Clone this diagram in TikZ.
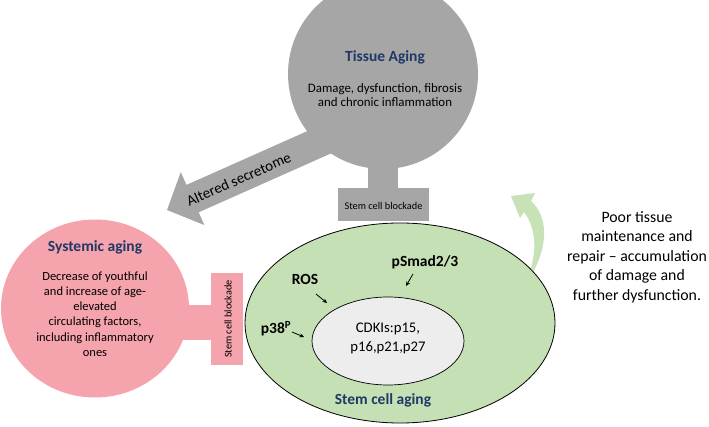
\documentclass[tikz,border=0pt]{standalone}
\usepackage{fontspec}
\setmainfont{Carlito}
\usetikzlibrary{arrows.meta,shapes.geometric}
\definecolor{tgray}{RGB}{166,166,166}
\definecolor{spink}{RGB}{245,163,172}
\definecolor{sgreen}{RGB}{197,224,180}
\definecolor{cgray}{RGB}{237,237,237}
\definecolor{navy}{RGB}{31,56,100}
\definecolor{agreen}{RGB}{200,226,184}
\begin{document}
\begin{tikzpicture}[x=1pt,y=-1pt,
  title/.style={font=\bfseries\fontsize{15.5}{18}\selectfont, text=navy, inner sep=0pt},
  bodytxt/.style={align=center, inner sep=0pt},
  blocktxt/.style={font=\fontsize{10.3}{12}\selectfont, inner sep=0pt},
  marker/.style={font=\bfseries\fontsize{15.5}{18}\selectfont, inner sep=0pt},
  smallarrow/.style={-{Stealth[length=4.5pt,width=4pt]}, line width=0.8pt}]
\useasboundingbox (0,0) rectangle (709,427);
\clip (0,0) rectangle (709,427);

% Altered secretome block arrow
\begin{scope}[shift={(167,210)}, rotate=24]
  \fill[tgray] (0,0) -- (28,-29) -- (28,-15) -- (185,-15) -- (185,15) -- (28,15) -- (28,29) -- cycle;
  \node[rotate=24, font=\fontsize{15}{18}\selectfont, inner sep=0pt] (secretome) at (78,1) {Altered secretome};
\end{scope}

% Tissue aging
\fill[tgray] (368,160) rectangle (398,190);
\node[circle, fill=tgray, minimum size=190pt, inner sep=0pt] (tissue) at (383,74) {};
\node[fill=tgray, minimum width=91pt, minimum height=33pt, inner sep=0pt] (tbox) at (383.5,204.5) {};
\node[blocktxt] (ttext) at (383.5,206) {Stem cell blockade};
\node[title] (ttitle) at (385,57) {Tissue Aging};
\node[bodytxt, font=\fontsize{12.9}{14.5}\selectfont] (tbody) at (385,95) {Damage, dysfunction, fibrosis\\and chronic inflammation};

% Systemic aging
\fill[spink] (180,305) rectangle (213,340);
\node[ellipse, fill=spink, minimum width=188pt, minimum height=178pt, inner sep=0pt] (sys) at (95,308.5) {};
\node[fill=spink, minimum width=32pt, minimum height=92pt, inner sep=0pt] (sbox) at (227,319) {};
\node[blocktxt, rotate=90] (stext) at (228,319) {Stem cell blockade};
\node[title] (stitle) at (95,247) {Systemic aging};
\node[bodytxt, font=\fontsize{12.5}{15.3}\selectfont] (sbody) at (95,314) {Decrease of youthful\\and increase of age-\\elevated\\ circulating factors,\\including inflammatory\\ones};

% green curved arrow
\fill[agreen] (511,196) -- (535,193) -- (531,201)
  .. controls (547,215) and (553,247) .. (522,290)
  .. controls (537,262) and (539,232) .. (524,212)
  -- (520,218) -- cycle;

% Stem cell aging
\node[ellipse, draw=black, line width=0.8pt, fill=sgreen, minimum width=310pt, minimum height=200pt, inner sep=0pt] (stem) at (400,323) {};
\node[ellipse, draw=black, line width=0.7pt, fill=cgray, minimum width=152pt, minimum height=88pt, inner sep=0pt] (cdki) at (388,341) {};
\node[bodytxt, font=\fontsize{14.7}{19}\selectfont] (cdkitext) at (388,338) {CDKIs:p15,\\p16,p21,p27};
\node[title] (stemtitle) at (383,400) {Stem cell aging};

\node[marker] (ros) at (305,279) {ROS};
\node[marker] (psmad) at (425,262) {pSmad2/3};
\node[marker] (p38) at (276,329) {p38\textsuperscript{P}};

\coordinate (rosA) at (316,294);
\coordinate (rosB) at (327,303);
\coordinate (smA) at (413,274);
\coordinate (smB) at (406,286);
\coordinate (pA) at (292,332);
\coordinate (pB) at (304,337);
\draw[smallarrow] (rosA) -- (rosB);
\draw[smallarrow] (smA) -- (smB);
\draw[smallarrow] (pA) -- (pB);

% right text
\node[bodytxt, font=\fontsize{15.8}{19.5}\selectfont] (poor) at (637,257) {Poor tissue\\maintenance and\\repair -- accumulation\\of damage and\\further dysfunction.};
\end{tikzpicture}
\end{document}
